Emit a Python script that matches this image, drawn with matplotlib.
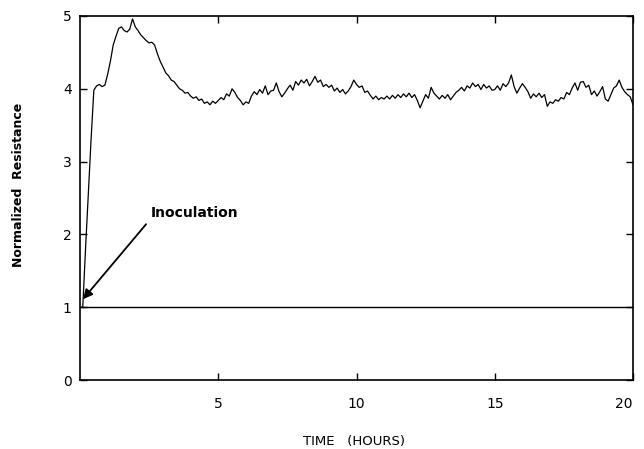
import numpy as np
import matplotlib
matplotlib.use('Agg')
import matplotlib.pyplot as plt

# time in hours, 0.1 h steps
hours = np.round(np.arange(0, 201) * 0.1, 1)

resistance = [
    1.00, 1.00, 1.80, 2.55, 3.30, 3.98, 4.04, 4.06, 4.03, 4.05,
    4.20, 4.38, 4.60, 4.72, 4.83, 4.85, 4.80, 4.78, 4.82, 4.96,
    4.85, 4.80, 4.74, 4.70, 4.66, 4.63, 4.64, 4.60, 4.48, 4.38,
    4.30, 4.22, 4.18, 4.12, 4.10, 4.05, 4.00, 3.98, 3.94, 3.95,
    3.90, 3.87, 3.89, 3.84, 3.86, 3.80, 3.82, 3.78, 3.83, 3.80,
    3.84, 3.88, 3.85, 3.93, 3.90, 4.00, 3.95, 3.88, 3.84, 3.78,
    3.82, 3.80, 3.90, 3.96, 3.92, 3.99, 3.94, 4.04, 3.92, 3.97,
    3.98, 4.08, 3.96, 3.89, 3.94, 4.00, 4.05, 3.98, 4.10, 4.05,
    4.12, 4.08, 4.13, 4.04, 4.10, 4.17, 4.09, 4.12, 4.03, 4.06,
    4.02, 4.05, 3.97, 4.01, 3.95, 3.99, 3.93, 3.97, 4.03, 4.12,
    4.06, 4.02, 4.04, 3.95, 3.97, 3.91, 3.86, 3.90, 3.85, 3.88,
    3.86, 3.90, 3.86, 3.91, 3.87, 3.92, 3.88, 3.93, 3.89, 3.94,
    3.88, 3.92, 3.84, 3.74, 3.83, 3.92, 3.87, 4.02, 3.94, 3.90,
    3.86, 3.91, 3.87, 3.92, 3.85, 3.90, 3.95, 3.98, 4.02, 3.97,
    4.04, 4.01, 4.08, 4.03, 4.06, 3.99, 4.06, 4.01, 4.04, 3.98,
    3.99, 4.04, 3.98, 4.07, 4.03, 4.08, 4.19, 4.03, 3.94, 4.01,
    4.07, 4.02, 3.96, 3.87, 3.93, 3.89, 3.94, 3.88, 3.92, 3.76,
    3.82, 3.80, 3.85, 3.83, 3.88, 3.86, 3.95, 3.92, 4.01, 4.08,
    3.98, 4.09, 4.10, 4.02, 4.05, 3.92, 3.97, 3.90, 3.96, 4.03,
    3.86, 3.83, 3.92, 4.01, 4.04, 4.12, 4.02, 3.96, 3.92, 3.89,
    3.78,
]

baseline = 1.0
x_ticks = [5, 10, 15, 20]
y_ticks = [0, 1, 2, 3, 4, 5]

arrow_head = (0.11, 1.11)
arrow_tail = (2.39, 2.14)
label_pos = (2.57, 2.29)

plt.rcParams['font.family'] = ['DejaVu Sans']

fig = plt.figure(figsize=(6.44, 4.49), dpi=100)
ax = fig.add_axes([80 / 644, 1 - 380 / 449, 553 / 644, 364 / 449])

ax.plot(hours, resistance, color='black', lw=0.9)
ax.axhline(baseline, color='black', lw=1.0)

ax.annotate('', xy=arrow_head, xytext=arrow_tail,
            arrowprops=dict(arrowstyle='-|>', color='black', lw=1.3,
                            mutation_scale=14, shrinkA=0, shrinkB=0))
ax.text(label_pos[0], label_pos[1], 'Inoculation', fontsize=10,
        fontweight='bold', va='center', ha='left')

ax.set_xlim(0, 20)
ax.set_ylim(0, 5)
ax.set_xticks(x_ticks)
ax.set_yticks(y_ticks)
ax.tick_params(direction='in', top=True, right=True, length=5, width=1,
               labelsize=10)
ax.tick_params(axis='x', pad=12)
ax.tick_params(axis='y', pad=6)
ax.get_xticklabels()[-1].set_ha('right')
for s in ax.spines.values():
    s.set_linewidth(1.2)

fig.text(19 / 644, 1 - 185 / 449, 'Normalized  Resistance', rotation=90,
         fontsize=9, fontweight='bold', ha='center', va='center')
fig.text(354 / 644, 1 - 441 / 449, 'TIME   (HOURS)', fontsize=9.5,
         ha='center', va='center')

fig.savefig('out.png', dpi=100)
